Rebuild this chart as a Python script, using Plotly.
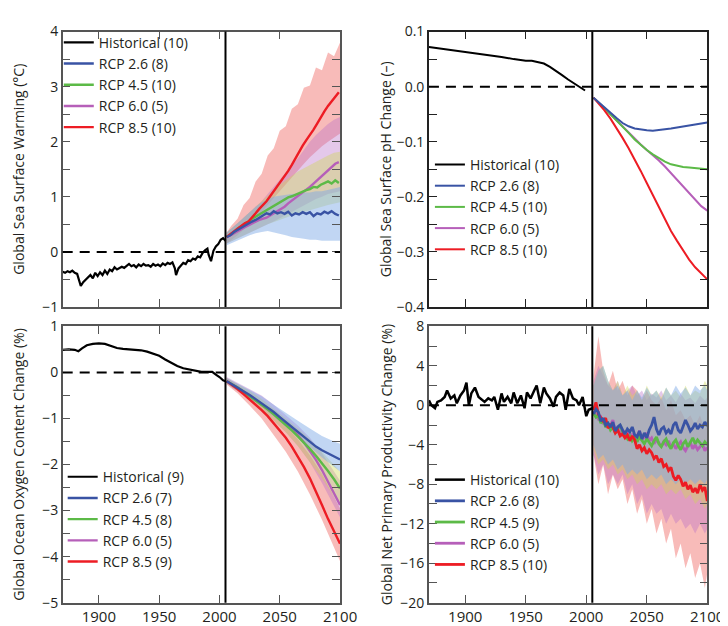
import plotly.graph_objects as go

# ---------------- data ----------------
# Panel 1: Global sea surface warming (°C)
sst_hist_years = [1870,1872,1874,1876,1878,1880,1882,1884,1885,1887,1889,1891,1893,1895,1897,1899,1901,1903,1905,1907,
                  1909,1911,1913,1915,1917,1919,1921,1923,1925,1927,1929,1931,1933,1935,1937,1939,1941,1943,1945,1947,
                  1949,1951,1953,1955,1957,1959,1961,1963,1964,1966,1968,1970,1972,1974,1976,1978,1980,1982,1984,1986,
                  1988,1990,1991,1992,1993,1995,1997,1999,2001,2003,2005]
sst_hist = [-0.36,-0.38,-0.35,-0.37,-0.34,-0.38,-0.40,-0.58,-0.62,-0.55,-0.50,-0.47,-0.42,-0.48,-0.38,-0.44,-0.37,-0.42,
            -0.34,-0.40,-0.32,-0.35,-0.28,-0.32,-0.30,-0.27,-0.29,-0.25,-0.22,-0.26,-0.24,-0.28,-0.23,-0.26,-0.22,-0.25,
            -0.24,-0.27,-0.22,-0.25,-0.23,-0.26,-0.21,-0.24,-0.20,-0.22,-0.19,-0.30,-0.42,-0.30,-0.24,-0.20,-0.22,-0.15,
            -0.17,-0.12,-0.14,-0.08,-0.10,-0.02,0.03,0.06,-0.05,-0.12,-0.17,0.02,0.10,0.14,0.22,0.25,0.20]
sst_proj_years = [2006,2009,2012,2015,2018,2021,2024,2027,2030,2033,2036,2039,2042,2045,2048,2051,2054,2057,2060,2063,
                  2066,2069,2072,2075,2078,2081,2084,2087,2090,2093,2096,2099]
sst_rcp26 = [0.27,0.30,0.36,0.40,0.44,0.47,0.52,0.55,0.58,0.62,0.66,0.70,0.68,0.74,0.70,0.72,0.69,0.73,0.66,0.70,
             0.68,0.72,0.69,0.72,0.65,0.70,0.68,0.73,0.70,0.74,0.69,0.66]
sst_rcp45 = [0.27,0.31,0.36,0.42,0.46,0.50,0.55,0.60,0.64,0.68,0.72,0.75,0.80,0.84,0.88,0.92,0.95,0.99,1.01,1.04,
             1.06,1.10,1.12,1.14,1.18,1.17,1.22,1.25,1.28,1.24,1.30,1.25]
sst_rcp60 = [0.26,0.30,0.34,0.38,0.42,0.45,0.48,0.52,0.55,0.58,0.60,0.62,0.66,0.70,0.74,0.78,0.82,0.88,0.93,0.98,
             1.02,1.08,1.13,1.18,1.24,1.30,1.36,1.42,1.48,1.55,1.60,1.63]
sst_rcp85 = [0.27,0.32,0.38,0.42,0.47,0.52,0.55,0.62,0.70,0.78,0.85,0.92,1.01,1.10,1.19,1.29,1.37,1.47,1.58,1.70,
             1.82,1.93,2.03,2.12,2.22,2.33,2.45,2.55,2.65,2.73,2.82,2.90]
sst_band_years = [2006,2010,2015,2020,2025,2030,2035,2040,2045,2050,2055,2060,2065,2070,2075,2080,2085,2090,2095,2100]
sst_rcp85_hi = [0.35,0.48,0.60,0.85,0.98,1.28,1.42,1.75,1.88,2.20,2.28,2.60,2.68,2.98,3.02,3.35,3.30,3.62,3.55,3.80]
sst_rcp85_lo = [0.15,0.22,0.30,0.40,0.50,0.60,0.72,0.85,0.98,1.10,1.22,1.35,1.48,1.60,1.72,1.82,1.92,2.00,2.08,2.15]
sst_rcp60_hi = [0.35,0.42,0.52,0.62,0.72,0.82,0.92,1.05,1.18,1.30,1.42,1.55,1.70,1.85,2.00,2.12,2.22,2.32,2.40,2.45]
sst_rcp60_lo = [0.15,0.20,0.25,0.30,0.35,0.40,0.45,0.50,0.55,0.60,0.66,0.72,0.78,0.84,0.90,0.96,1.00,1.05,1.08,1.10]
sst_rcp45_hi = [0.35,0.42,0.52,0.62,0.72,0.82,0.92,1.02,1.12,1.22,1.30,1.38,1.46,1.52,1.58,1.64,1.70,1.75,1.80,1.82]
sst_rcp45_lo = [0.15,0.20,0.25,0.30,0.35,0.40,0.45,0.50,0.55,0.58,0.62,0.66,0.70,0.73,0.76,0.79,0.82,0.85,0.88,0.90]
sst_rcp26_hi = [0.35,0.42,0.52,0.62,0.72,0.82,0.90,0.95,1.00,1.02,1.04,1.05,1.06,1.08,1.08,1.10,1.10,1.12,1.15,1.18]
sst_rcp26_lo = [0.12,0.16,0.20,0.25,0.30,0.34,0.36,0.38,0.36,0.33,0.30,0.27,0.25,0.24,0.22,0.22,0.20,0.20,0.20,0.20]

# Panel 2: Global sea surface pH change
ph_hist_years = [1870,1880,1890,1900,1910,1920,1930,1940,1950,1955,1960,1965,1970,1975,1980,1985,1990,1995,1999]
ph_hist = [0.072,0.069,0.066,0.063,0.061,0.058,0.054,0.050,0.047,0.047,0.045,0.042,0.036,0.029,0.021,0.013,0.006,0.000,-0.007]
ph_proj_years = [2006,2010,2015,2020,2025,2030,2035,2040,2045,2050,2055,2060,2065,2070,2075,2080,2085,2090,2095,2100]
ph_rcp26 = [-0.020,-0.028,-0.038,-0.048,-0.057,-0.066,-0.072,-0.076,-0.078,-0.079,-0.080,-0.079,-0.078,-0.076,-0.074,
            -0.072,-0.070,-0.068,-0.066,-0.065]
ph_rcp45 = [-0.020,-0.028,-0.039,-0.050,-0.061,-0.072,-0.084,-0.096,-0.106,-0.115,-0.123,-0.130,-0.136,-0.141,-0.144,
            -0.146,-0.147,-0.148,-0.149,-0.150]
ph_rcp60 = [-0.020,-0.028,-0.039,-0.050,-0.061,-0.072,-0.084,-0.095,-0.105,-0.115,-0.124,-0.134,-0.145,-0.157,-0.169,
            -0.182,-0.195,-0.207,-0.217,-0.225]
ph_rcp85 = [-0.020,-0.030,-0.043,-0.058,-0.075,-0.093,-0.112,-0.132,-0.153,-0.175,-0.197,-0.219,-0.241,-0.262,-0.280,
            -0.298,-0.314,-0.328,-0.340,-0.350]

# Panel 3: Global ocean oxygen content change (%)
o2_hist_years = [1870,1875,1880,1883,1886,1890,1895,1900,1905,1910,1915,1920,1925,1930,1935,1940,1945,1950,1955,1960,
                 1965,1970,1975,1980,1985,1990,1994,1997,2000,2003,2005]
o2_hist = [0.49,0.50,0.49,0.46,0.52,0.59,0.62,0.63,0.62,0.58,0.53,0.51,0.50,0.49,0.48,0.45,0.41,0.36,0.28,0.21,
           0.14,0.09,0.06,0.03,0.01,0.01,0.01,-0.05,-0.10,-0.17,-0.19]
o2_proj_years = [2006,2010,2015,2020,2025,2030,2035,2040,2045,2050,2055,2060,2065,2070,2075,2080,2085,2090,2095,2100]
o2_rcp26 = [-0.19,-0.25,-0.33,-0.41,-0.49,-0.58,-0.67,-0.76,-0.86,-0.97,-1.08,-1.19,-1.30,-1.41,-1.51,-1.61,-1.69,-1.76,-1.83,-1.89]
o2_rcp45 = [-0.19,-0.25,-0.33,-0.42,-0.51,-0.60,-0.70,-0.80,-0.91,-1.02,-1.14,-1.26,-1.39,-1.52,-1.66,-1.81,-1.97,-2.14,-2.32,-2.52]
o2_rcp60 = [-0.19,-0.25,-0.33,-0.42,-0.51,-0.60,-0.70,-0.80,-0.90,-1.00,-1.11,-1.23,-1.36,-1.52,-1.70,-1.90,-2.12,-2.37,-2.62,-2.88]
o2_rcp85 = [-0.19,-0.26,-0.36,-0.47,-0.58,-0.70,-0.82,-0.95,-1.10,-1.26,-1.42,-1.61,-1.82,-2.05,-2.30,-2.58,-2.88,-3.18,-3.46,-3.72]
o2_band_years = [2006,2015,2025,2035,2045,2055,2065,2075,2085,2095,2100]
o2_rcp85_hi = [-0.12,-0.28,-0.45,-0.65,-0.88,-1.15,-1.45,-1.80,-2.20,-2.70,-2.95]
o2_rcp85_lo = [-0.26,-0.45,-0.72,-1.00,-1.35,-1.72,-2.15,-2.65,-3.20,-3.80,-4.10]
o2_rcp60_hi = [-0.10,-0.22,-0.35,-0.50,-0.70,-0.92,-1.15,-1.42,-1.75,-2.15,-2.35]
o2_rcp60_lo = [-0.24,-0.42,-0.60,-0.80,-1.05,-1.30,-1.60,-1.95,-2.40,-2.90,-3.15]
o2_rcp45_hi = [-0.12,-0.25,-0.40,-0.58,-0.78,-1.00,-1.22,-1.45,-1.72,-2.00,-2.15]
o2_rcp45_lo = [-0.24,-0.40,-0.58,-0.80,-1.05,-1.30,-1.60,-1.95,-2.30,-2.70,-2.90]
o2_rcp26_hi = [-0.12,-0.24,-0.38,-0.52,-0.70,-0.88,-1.05,-1.22,-1.38,-1.50,-1.55]
o2_rcp26_lo = [-0.24,-0.40,-0.56,-0.74,-0.95,-1.17,-1.40,-1.62,-1.85,-2.05,-2.15]

# Panel 4: Global net primary productivity change (%)
npp_hist_years = [1870,1872,1875,1877,1880,1883,1885,1888,1891,1893,1896,1899,1901,1903,1905,1908,1911,1914,1916,1919,
                  1922,1924,1927,1930,1932,1935,1938,1940,1943,1946,1949,1951,1954,1957,1959,1962,1965,1967,1970,1973,
                  1975,1978,1981,1983,1986,1989,1992,1994,1997,2000,2002,2005]
npp_hist = [0.5,0.0,-0.3,0.35,0.5,0.85,1.5,0.7,1.0,0.2,1.0,1.5,2.3,0.0,1.2,1.8,0.85,0.5,0.35,0.7,
            0.5,0.85,-0.45,1.2,0.35,0.85,0.2,1.3,0.2,1.0,-0.3,1.3,0.7,1.5,2.0,0.2,1.8,1.2,0.7,-0.15,
            0.85,1.3,1.0,-0.45,1.65,0.7,0.5,0.0,0.85,-1.1,-0.45,-0.3]
npp_proj_years = list(range(2006, 2101, 2))
npp_rcp26 = [-0.9,-0.4,-0.7,-1.6,-1.3,-2.0,-1.8,-2.2,-1.7,-2.6,-2.2,-2.0,-2.5,-2.9,-2.4,-2.7,-2.2,-3.0,-3.2,-2.6,
             -3.4,-2.8,-3.3,-2.5,-2.0,-1.2,-2.4,-3.0,-2.4,-2.2,-2.8,-2.5,-2.9,-2.0,-1.7,-2.5,-2.8,-2.2,-1.5,-2.0,
             -2.6,-2.3,-1.8,-2.4,-2.0,-2.2,-1.7,-2.1]
npp_rcp45 = [-0.8,-1.2,-1.0,-1.8,-1.5,-2.2,-1.9,-2.5,-2.2,-2.8,-2.4,-2.0,-2.7,-3.1,-3.4,-3.0,-3.6,-3.3,-3.7,-3.2,
             -3.5,-3.9,-3.4,-3.8,-4.1,-3.6,-3.2,-3.9,-4.2,-3.7,-3.4,-4.0,-4.4,-3.8,-3.5,-4.1,-4.5,-3.9,-3.6,-4.2,
             -3.7,-3.3,-3.9,-3.5,-3.8,-4.1,-3.7,-4.0]
npp_rcp60 = [-0.6,-1.0,-1.4,-1.2,-1.9,-1.6,-2.3,-2.0,-1.5,-2.6,-2.3,-2.9,-2.5,-3.0,-2.7,-3.3,-2.9,-3.4,-3.1,-2.6,
             -3.5,-3.2,-2.8,-3.6,-3.3,-3.9,-3.5,-3.8,-4.2,-3.7,-4.0,-3.6,-4.3,-3.9,-4.4,-4.0,-3.7,-4.3,-4.6,-4.1,
             -3.8,-4.4,-4.0,-4.5,-4.2,-3.9,-4.6,-4.3]
npp_rcp85 = [-0.5,0.3,-0.9,-1.2,-1.6,-1.3,-2.3,-2.0,-2.2,-2.8,-2.5,-3.1,-2.9,-3.3,-3.0,-3.6,-3.1,-3.5,-4.4,-4.0,
             -4.6,-4.3,-4.9,-4.5,-4.8,-5.4,-5.1,-5.8,-5.4,-6.2,-6.0,-6.6,-6.3,-7.2,-7.6,-7.1,-7.5,-8.2,-7.8,-8.5,
             -8.1,-8.8,-8.4,-8.9,-8.0,-8.6,-8.3,-9.7]
npp_band_years = [2006,2010,2014,2018,2022,2026,2030,2034,2038,2042,2046,2050,2054,2058,2062,2066,2070,2074,2078,2082,
                  2086,2090,2094,2098,2100]
npp_rcp85_hi = [3.0,7.0,3.5,2.0,3.5,1.5,2.5,1.0,2.0,1.5,0.5,1.5,0.5,0.0,0.8,-0.5,0.5,-1.0,-0.5,-1.5,-1.0,-2.0,-1.0,-2.5,-1.5]
npp_rcp85_lo = [-5,-8,-6,-9,-7,-8.5,-7.5,-10,-8.5,-11,-9.5,-12,-10.5,-13,-11.5,-14,-12.5,-15.5,-14,-16.5,-15,-17.5,-16,-18.5,-17]
npp_rcp60_hi = [2.5,4.0,3.0,2.0,1.5,2.5,1.0,1.5,2.0,1.0,1.5,0.5,1.2,0.8,1.5,0.5,1.0,0.3,1.2,0.5,0.8,0.2,1.0,0.5,0.8]
npp_rcp60_lo = [-5,-7,-6,-8,-7,-8,-7,-9,-8,-10,-9,-11,-10,-11,-10.5,-12,-11,-12,-11.5,-12.5,-12,-13,-12,-13,-12.5]
npp_rcp45_hi = [2.0,3.5,4.0,2.5,1.5,2.5,1.0,2.0,1.0,1.5,0.5,2.0,1.0,1.5,0.8,1.8,1.0,1.5,0.8,2.0,1.0,1.5,1.2,2.5,2.0]
npp_rcp45_lo = [-4.5,-6,-5.5,-6.5,-6,-7,-6.5,-7.5,-7,-8,-7.5,-8.5,-8,-8.5,-8,-9,-8.5,-9,-8.5,-9.5,-9,-10,-9.5,-10.5,-10]
npp_rcp26_hi = [2.0,3.5,4.0,2.5,1.5,2.0,1.0,1.5,0.5,1.5,0.8,1.8,1.0,1.5,0.5,1.8,1.0,2.0,1.2,1.8,1.0,2.0,1.5,2.0,1.5]
npp_rcp26_lo = [-4,-5.5,-5,-6,-5.5,-6.5,-6,-7,-6.5,-7,-6.5,-7.5,-7,-7.5,-7,-8,-7.5,-8,-7.5,-8,-7.5,-8,-7.5,-8,-7.5]

# legend counts (number of models)
counts_sst = {"hist": 10, "rcp26": 8, "rcp45": 10, "rcp60": 5, "rcp85": 10}
counts_ph = {"hist": 10, "rcp26": 8, "rcp45": 10, "rcp60": 5, "rcp85": 10}
counts_o2 = {"hist": 9, "rcp26": 7, "rcp45": 8, "rcp60": 5, "rcp85": 9}
counts_npp = {"hist": 10, "rcp26": 8, "rcp45": 9, "rcp60": 5, "rcp85": 10}

y_titles = ["Global Sea Surface Warming (°C)", "Global Sea Surface pH Change (–)",
            "Global Ocean Oxygen Content Change (%)", "Global Net Primary Productivity Change (%)"]
x_ticks = [1900, 1950, 2000, 2050, 2100]

# ---------------- styling ----------------
FONT = "Open Sans, Liberation Sans, Arial, sans-serif"
TXT = "#231f20"
COL = {"hist": "#000000", "rcp26": "#3953a4", "rcp45": "#5cba47", "rcp60": "#b65fb9", "rcp85": "#ed1c24"}
BAND = {"rcp85": "rgba(240,105,100,0.45)", "rcp60": "rgba(185,110,200,0.38)",
        "rcp45": "rgba(205,215,80,0.38)", "rcp26": "rgba(125,170,230,0.48)"}
LABEL = {"hist": "Historical", "rcp26": "RCP 2.6", "rcp45": "RCP 4.5", "rcp60": "RCP 6.0", "rcp85": "RCP 8.5"}
RANK = {"hist": 1, "rcp26": 2, "rcp45": 3, "rcp60": 4, "rcp85": 5}

W, H = 728, 626
def fx(a, b): return [a / W, b / W]
def fy(top, bot): return [1 - bot / H, 1 - top / H]

XD = [fx(56, 340), fx(431, 716), fx(56, 340), fx(431, 716)]
YD = [fy(14, 298), fy(14, 298), fy(318, 603), fy(318, 603)]

fig = go.Figure()

def add_band(i, yrs, hi, lo, key):
    fig.add_trace(go.Scatter(x=list(yrs) + list(yrs)[::-1], y=list(hi) + list(lo)[::-1],
                             fill="toself", fillcolor=BAND[key], line=dict(width=0),
                             mode="lines", hoverinfo="skip", showlegend=False,
                             xaxis=f"x{i}", yaxis=f"y{i}"))

def add_line(i, yrs, vals, key, counts, width=2.4):
    leg = "legend" if i == 1 else f"legend{i}"
    fig.add_trace(go.Scatter(x=yrs, y=vals, mode="lines",
                             line=dict(color=COL[key], width=width),
                             name=f"{LABEL[key]} ({counts[key]})", legend=leg,
                             legendrank=RANK[key], xaxis=f"x{i}", yaxis=f"y{i}"))

# Panel 1
for k, hi, lo in [("rcp85", sst_rcp85_hi, sst_rcp85_lo), ("rcp60", sst_rcp60_hi, sst_rcp60_lo),
                  ("rcp45", sst_rcp45_hi, sst_rcp45_lo), ("rcp26", sst_rcp26_hi, sst_rcp26_lo)]:
    add_band(1, sst_band_years, hi, lo, k)
add_line(1, sst_hist_years, sst_hist, "hist", counts_sst, 2.2)
for k, v in [("rcp60", sst_rcp60), ("rcp45", sst_rcp45), ("rcp85", sst_rcp85), ("rcp26", sst_rcp26)]:
    add_line(1, sst_proj_years, v, k, counts_sst)

# Panel 2
add_line(2, ph_hist_years, ph_hist, "hist", counts_ph, 2)
for k, v in [("rcp60", ph_rcp60), ("rcp45", ph_rcp45), ("rcp85", ph_rcp85), ("rcp26", ph_rcp26)]:
    add_line(2, ph_proj_years, v, k, counts_ph, 2)

# Panel 3
for k, hi, lo in [("rcp85", o2_rcp85_hi, o2_rcp85_lo), ("rcp60", o2_rcp60_hi, o2_rcp60_lo),
                  ("rcp45", o2_rcp45_hi, o2_rcp45_lo), ("rcp26", o2_rcp26_hi, o2_rcp26_lo)]:
    add_band(3, o2_band_years, hi, lo, k)
add_line(3, o2_hist_years, o2_hist, "hist", counts_o2, 2.2)
for k, v in [("rcp60", o2_rcp60), ("rcp45", o2_rcp45), ("rcp85", o2_rcp85), ("rcp26", o2_rcp26)]:
    add_line(3, o2_proj_years, v, k, counts_o2)

# Panel 4
for k, hi, lo in [("rcp85", npp_rcp85_hi, npp_rcp85_lo), ("rcp60", npp_rcp60_hi, npp_rcp60_lo),
                  ("rcp45", npp_rcp45_hi, npp_rcp45_lo), ("rcp26", npp_rcp26_hi, npp_rcp26_lo)]:
    add_band(4, npp_band_years, hi, lo, k)
add_line(4, npp_hist_years, npp_hist, "hist", counts_npp, 2.5)
for k, v in [("rcp60", npp_rcp60), ("rcp45", npp_rcp45), ("rcp85", npp_rcp85), ("rcp26", npp_rcp26)]:
    add_line(4, npp_proj_years, v, k, counts_npp, 2.8)

# ---------------- axes ----------------
AXC = "#555555"
yspecs = [
    dict(range=[-1, 4], dtick=1, minor=0.5, fmt=None, standoff=14, lc=AXC),
    dict(range=[-0.4, 0.1], dtick=0.1, minor=0.05, fmt=".1f", standoff=2, lc="#222222"),
    dict(range=[-5, 1], dtick=1, minor=0.5, fmt=None, standoff=14, lc=AXC),
    dict(range=[-20, 8], dtick=4, minor=2, fmt=None, standoff=4, lc=AXC),
]
layout = {}
for i in range(1, 5):
    xs = "xaxis" if i == 1 else f"xaxis{i}"
    ys = "yaxis" if i == 1 else f"yaxis{i}"
    sp = yspecs[i - 1]
    layout[xs] = dict(domain=XD[i - 1], anchor=f"y{i}", range=[1870, 2100], tickmode="array",
                      tickvals=x_ticks, showticklabels=(i >= 3), ticks="inside", ticklen=8,
                      tickcolor=sp["lc"], tickwidth=1.3, showline=True, linecolor=sp["lc"], linewidth=1.5,
                      mirror="ticks", showgrid=False, zeroline=False,
                      tickfont=dict(family=FONT, size=15, color=TXT))
    ya = dict(domain=YD[i - 1], anchor=f"x{i}", range=sp["range"], dtick=sp["dtick"], tick0=0,
              ticks="inside", ticklen=8, tickcolor=sp["lc"], tickwidth=1.3,
              minor=dict(dtick=sp["minor"], tick0=0, ticks="inside", ticklen=8, tickcolor=sp["lc"], tickwidth=1.3),
              showline=True, linecolor=sp["lc"], linewidth=1.5, mirror="ticks", showgrid=False, zeroline=False,
              tickfont=dict(family=FONT, size=14, color=TXT),
              title=dict(text=y_titles[i - 1], font=dict(family=FONT, size=14, color=TXT),
                         standoff=sp["standoff"]))
    if sp["fmt"]:
        ya["tickformat"] = sp["fmt"]
    layout[ys] = ya

shapes = []
for i in range(1, 5):
    xr = "x" if i == 1 else f"x{i}"
    yr = "y" if i == 1 else f"y{i}"
    shapes.append(dict(type="line", xref=f"{xr} domain", yref=yr, x0=0, x1=1, y0=0, y1=0,
                       line=dict(color="black", width=2, dash="10px,7px"), layer="above"))
    shapes.append(dict(type="line", xref=xr, yref=f"{yr} domain", x0=2005, x1=2005, y0=0, y1=1,
                       line=dict(color="black", width=2), layer="above"))

legpos = [(52 / W, 1 - 9 / H), (432 / W, 1 - 135 / H), (56 / W, 1 - 457 / H), (432 / W, 1 - 460 / H)]
for i in range(1, 5):
    ln = "legend" if i == 1 else f"legend{i}"
    layout[ln] = dict(x=legpos[i - 1][0], y=legpos[i - 1][1], xanchor="left", yanchor="top",
                      bgcolor="rgba(0,0,0,0)", borderwidth=0, tracegroupgap=0, itemwidth=30,
                      font=dict(family=FONT, size=14, color=TXT))

fig.update_layout(**layout)
fig.update_layout(width=W, height=H, margin=dict(l=0, r=0, t=0, b=0),
                  paper_bgcolor="white", plot_bgcolor="white", shapes=shapes,
                  font=dict(family=FONT, color=TXT), showlegend=True)

fig.write_html("out.html")
